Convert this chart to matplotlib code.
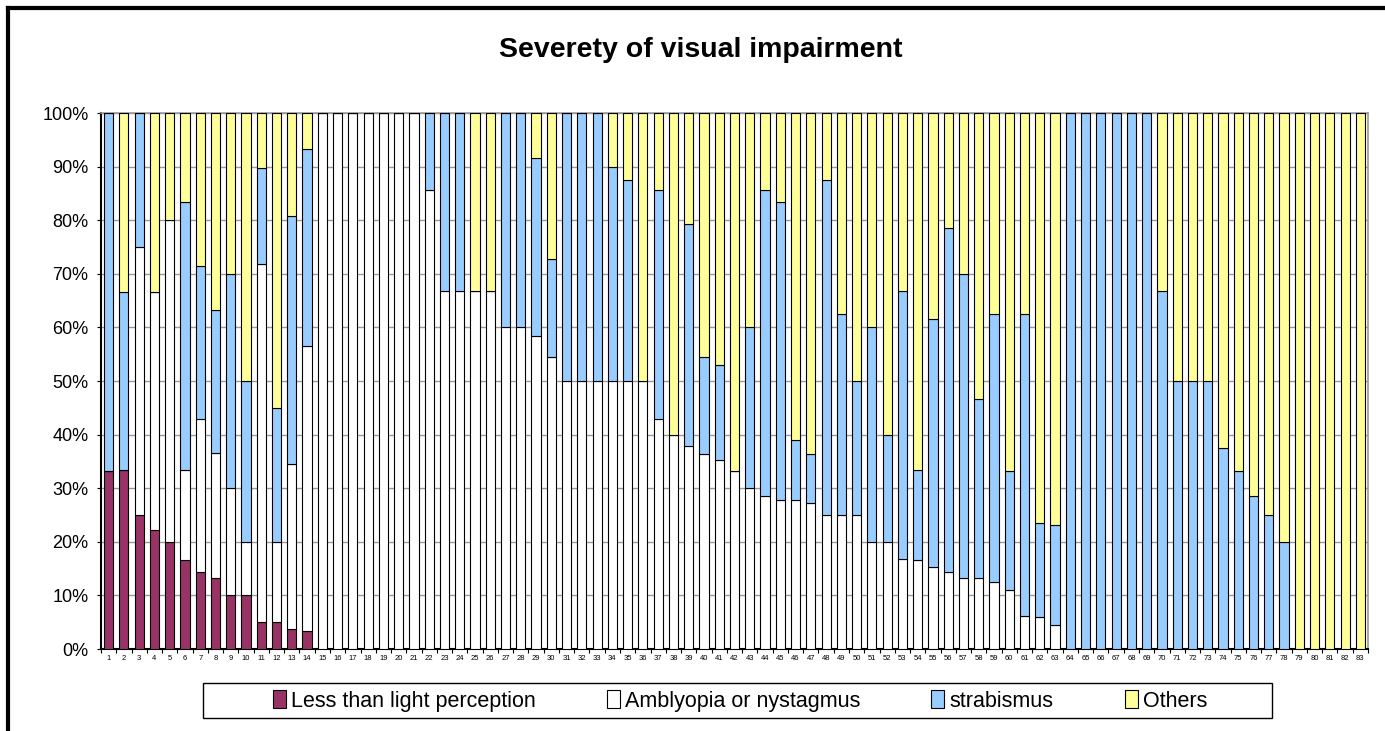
import matplotlib
matplotlib.use("Agg")
import matplotlib.pyplot as plt
from matplotlib.lines import Line2D
from matplotlib.patches import Rectangle
import numpy as np

categories = [str(i) for i in range(1, 84)]

less_than_lp = [33.3, 33.3, 25.0, 22.2, 20.0, 16.7, 14.3, 13.3, 10.0, 10.0,
                5.1, 5.0, 3.8, 3.3] + [0] * 69

amblyopia = [0, 0, 50.0, 44.4, 60.0, 16.7, 28.6, 23.3, 20.0, 10.0,
             66.7, 15.0, 30.8, 53.3,
             100, 100, 100, 100, 100, 100, 100,          # 15-21
             85.7, 66.7, 66.7, 66.7, 66.7, 60.0, 60.0, 58.3, 54.5,   # 22-30
             50, 50, 50, 50, 50, 50,                     # 31-36
             42.9, 40.0, 37.9, 36.4, 35.3, 33.3, 30.0, 28.6, 27.8, 27.8,  # 37-46
             27.3, 25.0, 25.0, 25.0, 20.0, 20.0, 16.7, 16.7, 15.4, 14.3,  # 47-56
             13.3, 13.3, 12.5, 11.1, 6.25, 5.9, 4.4,      # 57-63
             0, 0, 0, 0, 0, 0, 0, 0, 0, 0, 0, 0, 0, 0, 0, 0, 0, 0, 0, 0]  # 64-83

strabismus = [66.7, 33.3, 25.0, 0, 0, 50.0, 28.6, 26.7, 40.0, 30.0,
              17.9, 25.0, 46.2, 36.7,
              0, 0, 0, 0, 0, 0, 0,
              14.3, 33.3, 33.3, 0, 0, 40.0, 40.0, 33.3, 18.2,
              50, 50, 50, 40, 37.5, 0,
              42.9, 0, 41.4, 18.2, 17.6, 0, 30.0, 57.1, 55.6, 11.1,
              9.1, 62.5, 37.5, 25.0, 40.0, 20.0, 50.0, 16.7, 46.2, 64.3,
              56.7, 33.3, 50.0, 22.2, 56.25, 17.6, 18.8,
              100, 100, 100, 100, 100, 100,               # 64-69
              66.7, 50, 50, 50, 37.5, 33.3, 28.6, 25.0, 20.0,  # 70-78
              0, 0, 0, 0, 0]                              # 79-83

others = [0, 33.3, 0, 33.3, 20.0, 16.7, 28.6, 36.7, 30.0, 50.0,
          10.3, 55.0, 19.2, 6.7,
          0, 0, 0, 0, 0, 0, 0,
          0, 0, 0, 33.3, 33.3, 0, 0, 8.3, 27.3,
          0, 0, 0, 10, 12.5, 50,
          14.3, 60.0, 20.7, 45.5, 47.1, 66.7, 40.0, 14.3, 16.7, 61.1,
          63.6, 12.5, 37.5, 50.0, 40.0, 60.0, 33.3, 66.7, 38.5, 21.4,
          30.0, 53.3, 37.5, 66.7, 37.5, 76.5, 76.8,
          0, 0, 0, 0, 0, 0,
          33.3, 50, 50, 50, 62.5, 66.7, 71.4, 75.0, 80.0,
          100, 100, 100, 100, 100]

series_names = ["Less than light perception", "Amblyopia or nystagmus",
                "strabismus", "Others"]
colors = ["#993366", "#FFFFFF", "#99CCFF", "#FFFF99"]
y_ticks = [0, 10, 20, 30, 40, 50, 60, 70, 80, 90, 100]
title = "Severety of visual impairment"

plt.rcParams['font.family'] = ['Liberation Sans', 'DejaVu Sans']

W, H = 1385, 731
fig = plt.figure(figsize=(W / 100, H / 100), dpi=100)
ax = fig.add_axes([101 / W, 1 - 649 / H, (1368 - 101) / W, (649 - 113) / H])

data = [np.array(less_than_lp), np.array(amblyopia),
        np.array(strabismus), np.array(others)]
totals = sum(data)
data = [d / totals * 100 for d in data]

x = np.arange(len(categories))
bottom = np.zeros(len(categories))
handles = []
for vals, name, col in zip(data, series_names, colors):
    b = ax.bar(x, vals, width=0.6, bottom=bottom, color=col,
               edgecolor="black", linewidth=0.8, label=name, zorder=3)
    handles.append(b)
    bottom += vals

ax.set_xlim(-0.5, len(categories) - 0.5)
ax.set_ylim(0, 100)
ax.set_yticks(y_ticks)
ax.set_yticklabels([f"{v}%" for v in y_ticks], fontsize=13)
ax.set_xticks(x)
ax.set_xticklabels(categories, fontsize=5.5)
ax.set_xticks(np.arange(-0.5, len(categories), 1), minor=True)
ax.tick_params(axis='x', which='major', length=0, pad=4)
ax.tick_params(axis='x', which='minor', length=3, direction='out', width=0.8)
ax.tick_params(axis='y', length=3, direction='out', width=0.8, pad=6)
ax.yaxis.grid(True, color="#999999", linewidth=1.0, zorder=0)
ax.set_axisbelow(True)
for s in ["top", "right"]:
    ax.spines[s].set_color("#999999")
    ax.spines[s].set_linewidth(1.2)
for s in ["left", "bottom"]:
    ax.spines[s].set_color("black")
    ax.spines[s].set_linewidth(1.5)

fig.text(701 / W, 1 - 50 / H, title, ha="center", va="center",
         fontsize=20.5, fontweight="bold")

# legend frame
fig.add_artist(Rectangle((203 / W, 1 - 718 / H), (1272 - 203) / W, 35 / H,
                         transform=fig.transFigure, facecolor="white",
                         edgecolor="black", linewidth=1.0))
leg = fig.legend(handles=handles, labels=series_names, ncol=4,
                 loc="center", bbox_to_anchor=(740 / W, 1 - 701 / H),
                 frameon=False, fontsize=15.5, handlelength=0.6,
                 handleheight=0.9, handletextpad=0.25, columnspacing=3.3,
                 borderaxespad=0, borderpad=0)

# outer chart border (partially visible)
fig.add_artist(Line2D([8 / W, 1.0], [1 - 8 / H, 1 - 8 / H], color="black",
                      linewidth=3, transform=fig.transFigure))
fig.add_artist(Line2D([8 / W, 8 / W], [1 - 8 / H, 0], color="black",
                      linewidth=3, transform=fig.transFigure))

fig.savefig("out.png", dpi=100, facecolor="white")
